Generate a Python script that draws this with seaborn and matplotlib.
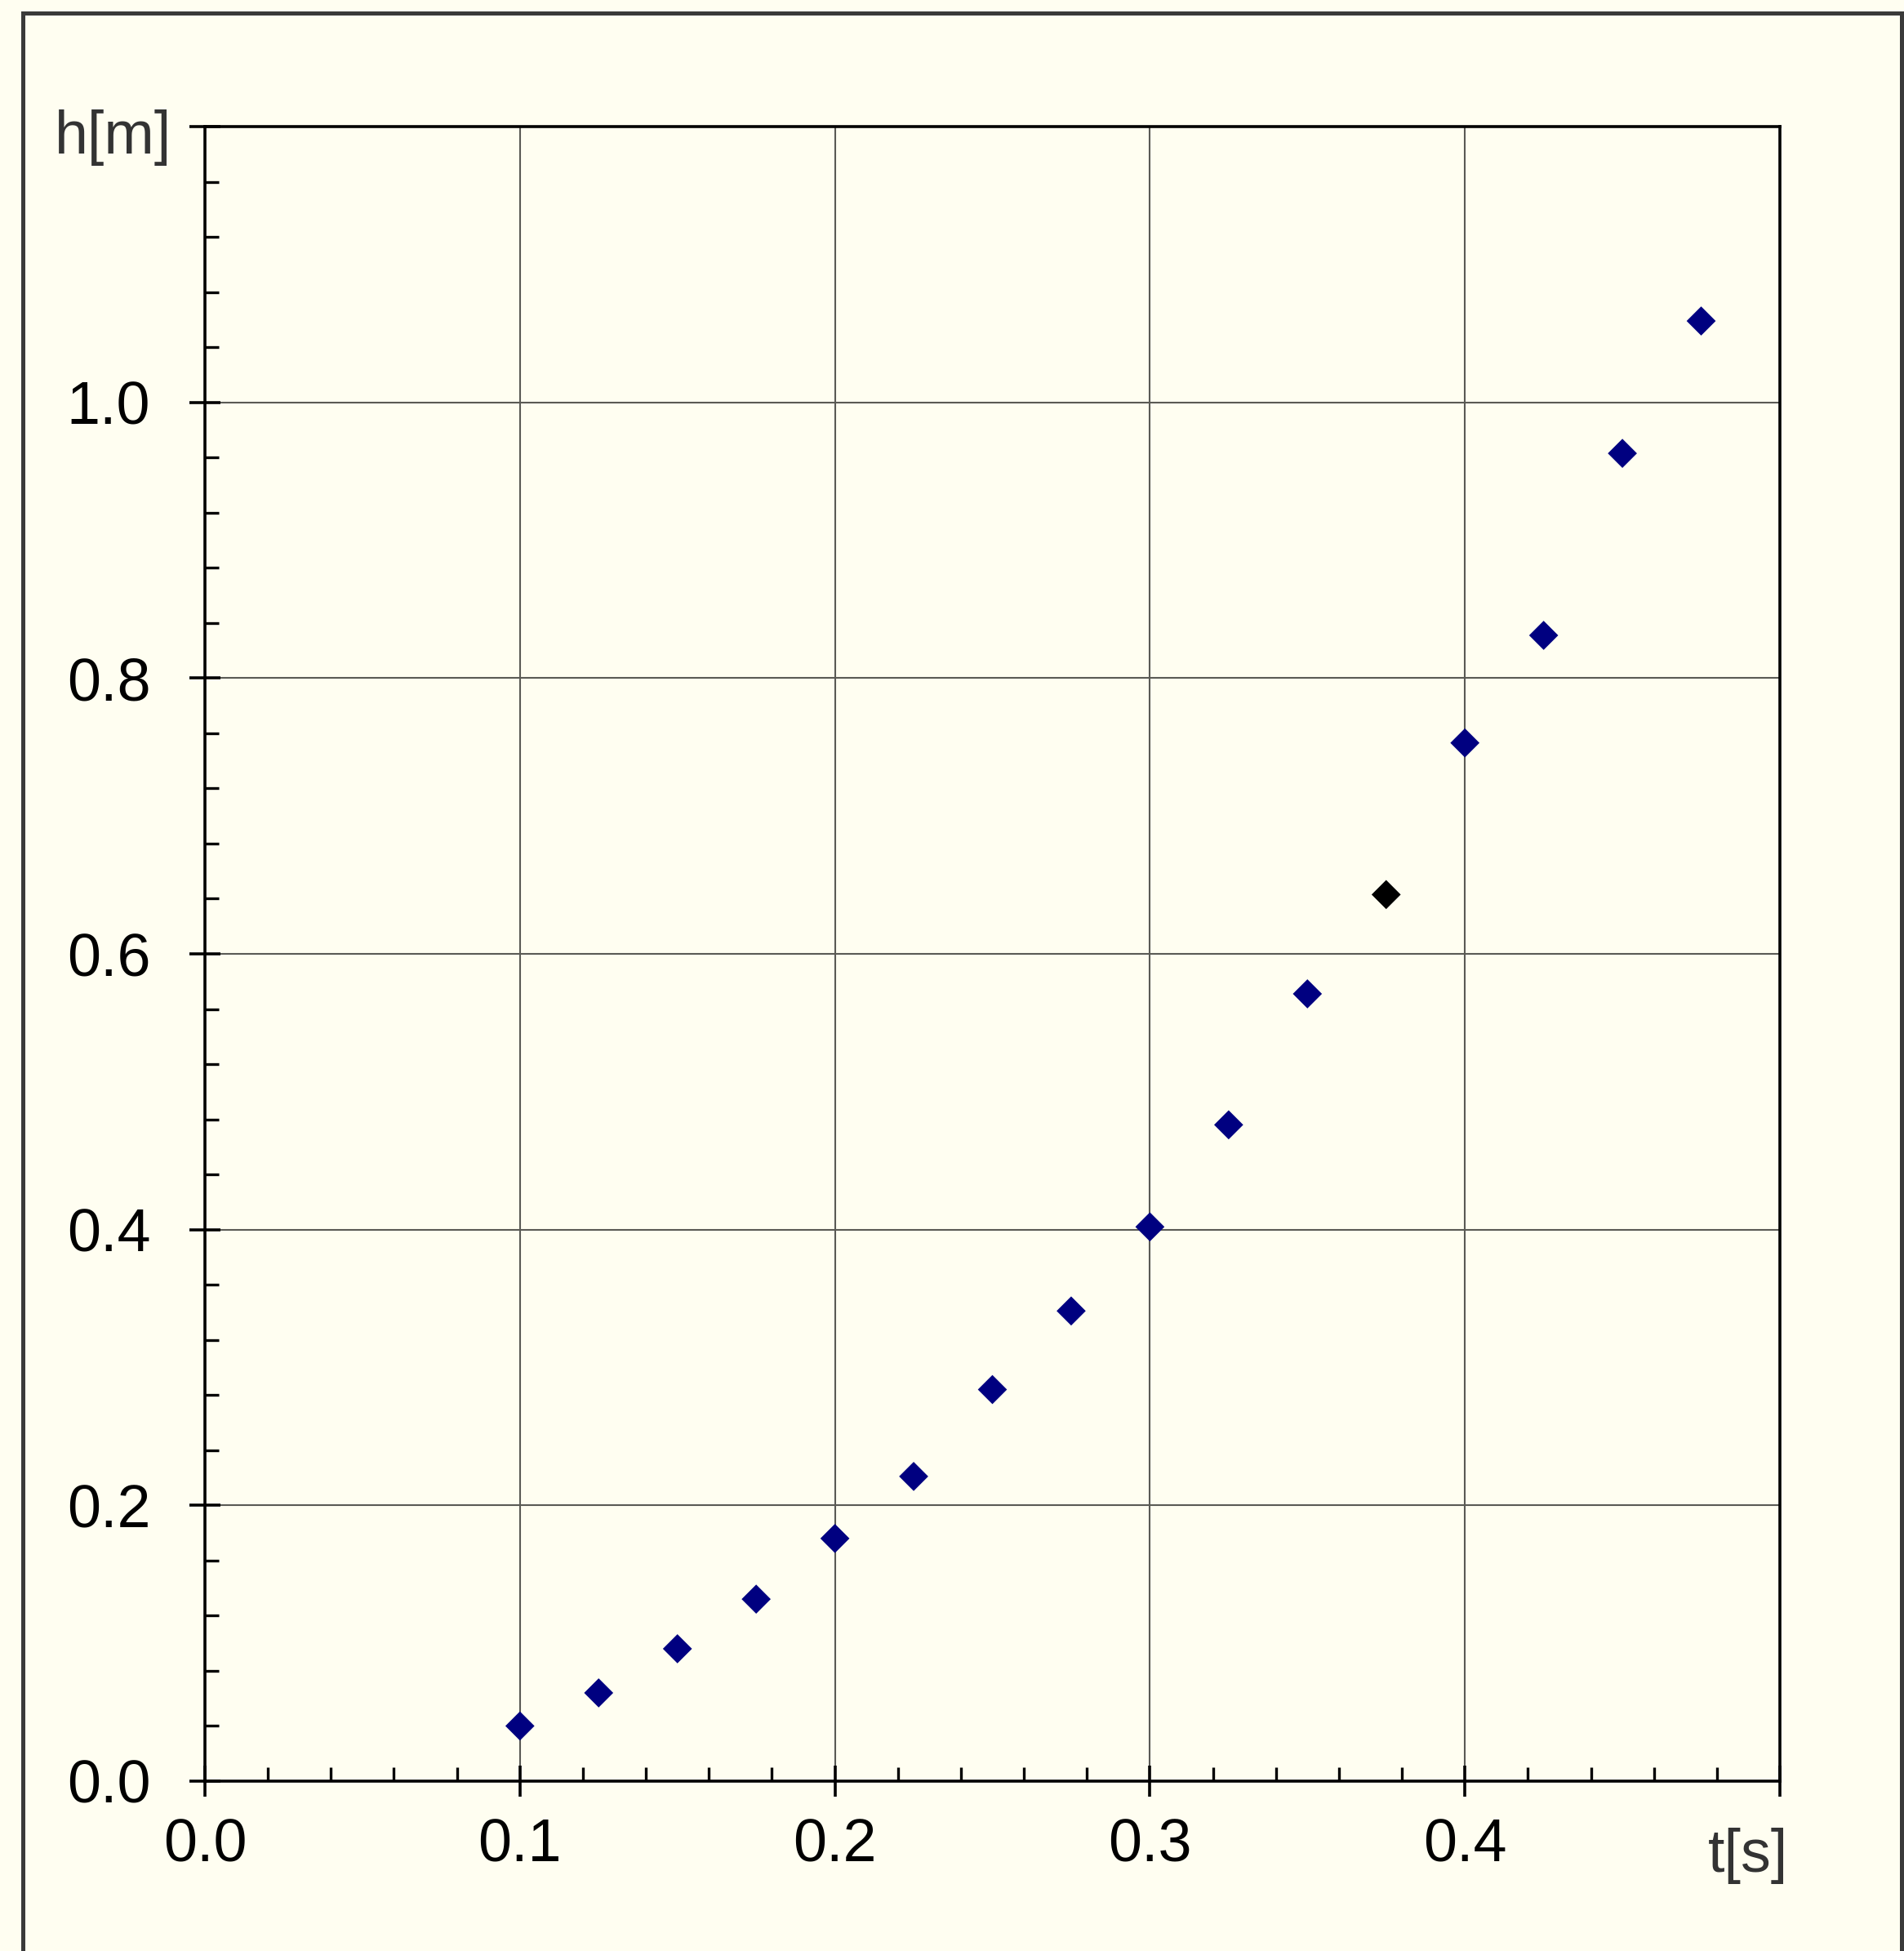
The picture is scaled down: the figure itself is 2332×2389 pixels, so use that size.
import numpy as np
import pandas as pd
import matplotlib
matplotlib.use("Agg")
import matplotlib.pyplot as plt
import seaborn as sns
from matplotlib.ticker import MultipleLocator
from matplotlib.patches import Rectangle

# ---- data ----
t_values = [0.100, 0.125, 0.150, 0.175, 0.200, 0.225, 0.250, 0.275,
            0.300, 0.325, 0.350, 0.375, 0.400, 0.425, 0.450, 0.475]
h_values = [0.040, 0.064, 0.096, 0.132, 0.176, 0.221, 0.284, 0.341,
            0.402, 0.476, 0.571, 0.643, 0.753, 0.831, 0.963, 1.059]
point_group = ["navy"] * 11 + ["black"] + ["navy"] * 4

x_ticks = [0.0, 0.1, 0.2, 0.3, 0.4, 0.5]
x_tick_labels = ["0.0", "0.1", "0.2", "0.3", "0.4", ""]
y_ticks = [0.0, 0.2, 0.4, 0.6, 0.8, 1.0, 1.2]
y_tick_labels = ["0.0", "0.2", "0.4", "0.6", "0.8", "1.0", ""]
x_label = "t[s]"
y_label = "h[m]"

# ---- style ----
sns.set_theme(style="white")
plt.rcParams["font.family"] = ["Liberation Sans", "DejaVu Sans"]

BG = "#FFFEF1"
W, H = 2332, 2389
fig = plt.figure(figsize=(W / 100, H / 100), dpi=100, facecolor=BG)

left, right, top, bottom = 251, 2180, 155, 2181
ax = fig.add_axes([left / W, 1 - bottom / H, (right - left) / W, (bottom - top) / H])
ax.set_facecolor(BG)

df = pd.DataFrame({"t": t_values, "h": h_values, "group": point_group})
sns.scatterplot(data=df, x="t", y="h", hue="group",
                palette={"navy": "#000080", "black": "#000000"},
                marker="D", s=330, linewidth=0, legend=False, ax=ax, zorder=3)

ax.set_xlim(0, 0.5)
ax.set_ylim(0, 1.2)
ax.set_xticks(x_ticks)
ax.set_xticklabels(x_tick_labels)
ax.set_yticks(y_ticks)
ax.set_yticklabels(y_tick_labels)
ax.xaxis.set_minor_locator(MultipleLocator(0.02))
ax.yaxis.set_minor_locator(MultipleLocator(0.04))
ax.set_xlabel("")
ax.set_ylabel("")

ax.grid(True, which="major", color="#5a5a55", linewidth=1.5, zorder=1)
ax.set_axisbelow(True)

ax.tick_params(which="major", direction="inout", length=27, width=2.6,
               color="black", labelsize=53, labelcolor="black",
               bottom=True, left=True, top=False, right=False)
ax.tick_params(axis="x", which="major", pad=18.5)
ax.tick_params(axis="y", which="major", pad=34.5)
ax.tick_params(which="minor", direction="in", length=12, width=2.4,
               color="black", bottom=True, left=True, top=False, right=False)

for sp in ax.spines.values():
    sp.set_color("black")
    sp.set_linewidth(2.6)
    sp.set_visible(True)

fig.text(210 / W, 1 - 188 / H, y_label, ha="right", va="baseline",
         fontsize=53, color="#333333")
fig.text(2190 / W, 1 - 2292 / H, x_label, ha="right", va="baseline",
         fontsize=53, color="#333333")

# outer frame
frame = Rectangle((28 / W, -0.05), (2329 - 28) / W, 1 - 15.5 / H + 0.05,
                  transform=fig.transFigure, fill=False,
                  edgecolor="#3a3a3a", linewidth=3.6, clip_on=False)
fig.patches.append(frame)

fig.savefig("out.png", dpi=100, facecolor=BG)
